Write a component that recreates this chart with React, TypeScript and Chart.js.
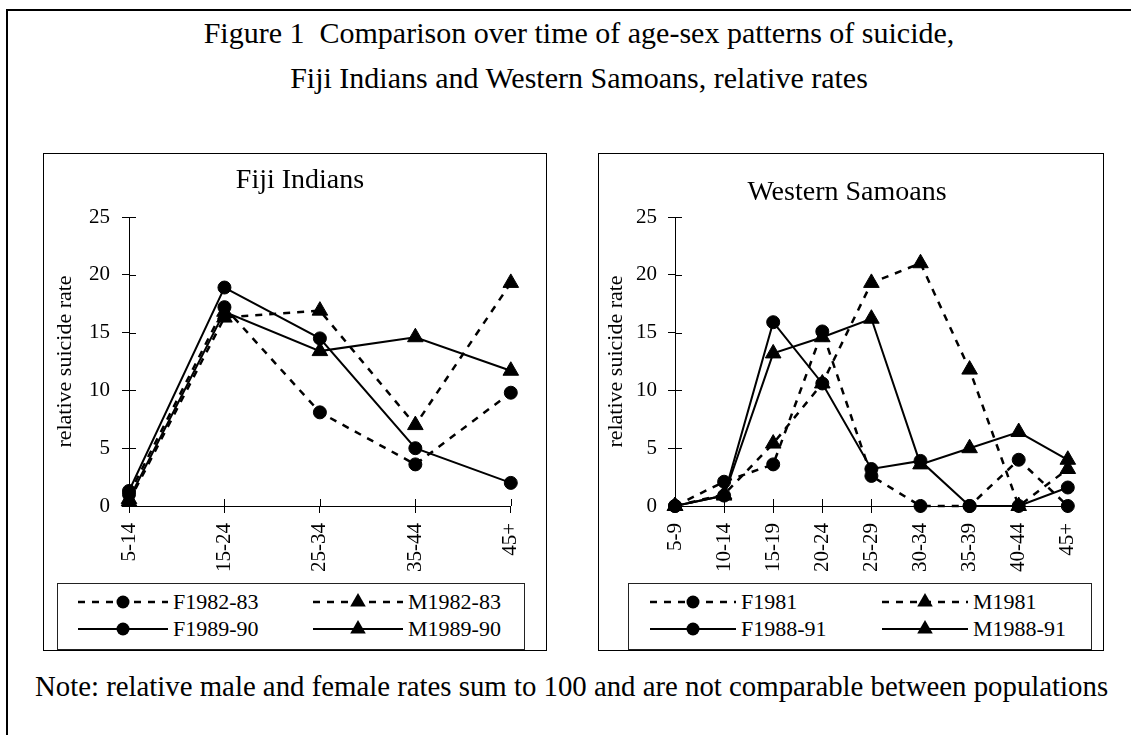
import React, { useEffect, useRef } from "react";
import Chart from "chart.js/auto";

const FONT = '"Liberation Serif", "Times New Roman", serif';

// ---------- data ----------
const fijiCategories = ["5-14", "15-24", "25-34", "35-44", "45+"];
const fijiF1982 = [1.0, 17.2, 8.1, 3.6, 9.8];
const fijiM1982 = [0.4, 16.3, 16.9, 7.0, 19.3];
const fijiF1989 = [1.3, 18.9, 14.5, 5.0, 2.0];
const fijiM1989 = [0.6, 16.8, 13.4, 14.6, 11.7];

const samoaCategories = ["5-9", "10-14", "15-19", "20-24", "25-29", "30-34", "35-39", "40-44", "45+"];
const samoaF1981 = [0, 2.1, 3.6, 15.1, 2.6, 0, 0, 4.0, 0];
const samoaM1981 = [0, 1.0, 5.4, 10.6, 19.3, 21.0, 11.8, 0, 3.2];
const samoaF1988 = [0, 0.9, 15.9, 10.6, 3.2, 3.9, 0, 0, 1.6];
const samoaM1988 = [0, 0.9, 13.2, 14.6, 16.2, 3.6, 5.0, 6.4, 4.0];

const yTickValues = [0, 5, 10, 15, 20, 25];

const fijiSeriesNames = ["F1982-83", "M1982-83", "F1989-90", "M1989-90"];
const samoaSeriesNames = ["F1981", "M1981", "F1988-91", "M1988-91"];

type Marker = "circle" | "triangle";
interface Series {
  name: string;
  values: number[];
  dashed: boolean;
  marker: Marker;
}

const fijiSeries: Series[] = [
  { name: fijiSeriesNames[0], values: fijiF1982, dashed: true, marker: "circle" },
  { name: fijiSeriesNames[1], values: fijiM1982, dashed: true, marker: "triangle" },
  { name: fijiSeriesNames[2], values: fijiF1989, dashed: false, marker: "circle" },
  { name: fijiSeriesNames[3], values: fijiM1989, dashed: false, marker: "triangle" },
];
const samoaSeries: Series[] = [
  { name: samoaSeriesNames[0], values: samoaF1981, dashed: true, marker: "circle" },
  { name: samoaSeriesNames[1], values: samoaM1981, dashed: true, marker: "triangle" },
  { name: samoaSeriesNames[2], values: samoaF1988, dashed: false, marker: "circle" },
  { name: samoaSeriesNames[3], values: samoaM1988, dashed: false, marker: "triangle" },
];

const DASH = [7, 7];
const CIRCLE_R = 6.5;
const TRI_R = 9;

// draws the inner half of the "cross" tick marks
const crossTicks = {
  id: "crossTicks",
  beforeDatasetsDraw(chart: any) {
    const { ctx, chartArea, scales } = chart;
    ctx.save();
    ctx.strokeStyle = "#000";
    ctx.lineWidth = 1;
    ctx.beginPath();
    const ys = scales.y;
    ys.ticks.forEach((_: any, i: number) => {
      const py = Math.round(ys.getPixelForTick(i)) + 0.5;
      ctx.moveTo(chartArea.left, py);
      ctx.lineTo(chartArea.left + 7, py);
    });
    const xs = scales.x;
    xs.ticks.forEach((_: any, i: number) => {
      const px = Math.round(xs.getPixelForTick(i)) + 0.5;
      ctx.moveTo(px, chartArea.bottom);
      ctx.lineTo(px, chartArea.bottom - 7);
    });
    ctx.stroke();
    ctx.restore();
  },
};

interface PanelProps {
  left: number;
  width: number;
  title: string;
  titleTop: number;
  titleCenter: number;
  categories: string[];
  series: Series[];
  yWidth: number;
  padRight: number;
  yTitlePad: number;
  yTickPad: number;
  legendLeft: number;
  legendWidth: number;
  legendCols: number[];
  sampleWidth: number;
}

const PANEL_TOP = 153;
const PANEL_H = 498;

function Sample({ s, w }: { s: Series; w: number }) {
  const cy = 10;
  const cx = w / 2;
  const r = TRI_R;
  return (
    <svg width={w} height={20} style={{ display: "block", flex: "none" }}>
      <line
        x1={0}
        y1={cy}
        x2={w}
        y2={cy}
        stroke="#000"
        strokeWidth={s.dashed ? 2.5 : 2}
        strokeDasharray={s.dashed ? DASH.join(" ") : undefined}
      />
      {s.marker === "circle" ? (
        <circle cx={cx} cy={cy} r={CIRCLE_R} fill="#000" />
      ) : (
        <polygon
          points={`${cx},${cy - r} ${cx + 0.866 * r},${cy + 0.5 * r} ${cx - 0.866 * r},${cy + 0.5 * r}`}
          fill="#000"
        />
      )}
    </svg>
  );
}

function Panel(p: PanelProps) {
  const ref = useRef<HTMLCanvasElement | null>(null);
  const cw = p.width - 2;
  const ch = PANEL_H - 2;

  useEffect(() => {
    if (!ref.current) return;
    const tickFont = { family: FONT, size: 21 };
    const chart = new Chart(ref.current, {
      type: "line",
      data: {
        labels: p.categories,
        datasets: p.series.map((s) => ({
          label: s.name,
          data: s.values,
          borderColor: "#000",
          backgroundColor: "#000",
          borderWidth: s.dashed ? 2.5 : 2,
          borderDash: s.dashed ? DASH : [],
          pointStyle: s.marker,
          pointRadius: s.marker === "circle" ? CIRCLE_R : TRI_R,
          pointBorderWidth: 1,
          pointBackgroundColor: "#000",
          pointBorderColor: "#000",
          tension: 0,
          fill: false,
          clip: false as any,
        })),
      },
      options: {
        animation: false,
        responsive: false,
        devicePixelRatio: 1,
        layout: { padding: { left: 0, top: 63, right: p.padRight, bottom: ch - 352 - 100 } },
        plugins: {
          legend: { display: false },
          title: { display: false },
          tooltip: { enabled: false },
        },
        scales: {
          x: {
            type: "category",
            offset: false,
            grid: { display: true, drawOnChartArea: false, drawTicks: true, tickLength: 7, color: "#000", lineWidth: 1 },
            border: { display: true, color: "#000", width: 1 },
            ticks: {
              font: tickFont,
              color: "#000",
              minRotation: 90,
              maxRotation: 90,
              padding: 10,
              autoSkip: false,
            },
            afterFit: (s: any) => {
              s.height = 100;
            },
          },
          y: {
            min: 0,
            max: 25,
            afterBuildTicks: (s: any) => {
              s.ticks = yTickValues.map((v) => ({ value: v }));
            },
            grid: { display: true, drawOnChartArea: false, drawTicks: true, tickLength: 7, color: "#000", lineWidth: 1 },
            border: { display: true, color: "#000", width: 1 },
            ticks: { font: tickFont, color: "#000", padding: p.yTickPad },
            title: {
              display: true,
              text: "relative suicide rate",
              font: { family: FONT, size: 22 },
              color: "#000",
              padding: { top: p.yTitlePad, bottom: 0 },
            },
            afterFit: (s: any) => {
              s.width = p.yWidth;
            },
          },
        },
      },
      plugins: [crossTicks],
    } as any);
    return () => chart.destroy();
  }, []);

  const rows = [18, 45];
  return (
    <div
      style={{
        position: "absolute",
        left: p.left,
        top: PANEL_TOP,
        width: p.width,
        height: PANEL_H,
        boxSizing: "border-box",
        border: "1px solid #000",
        background: "#fff",
      }}
    >
      <canvas ref={ref} width={cw} height={ch} style={{ position: "absolute", left: 0, top: 0, width: cw, height: ch }} />
      <div
        style={{
          position: "absolute",
          left: p.titleCenter - 250,
          width: 500,
          top: p.titleTop,
          textAlign: "center",
          fontFamily: FONT,
          fontSize: 28,
          lineHeight: "28px",
          whiteSpace: "nowrap",
          color: "#000",
        }}
      >
        {p.title}
      </div>
      <div
        style={{
          position: "absolute",
          left: p.legendLeft,
          top: 429,
          width: p.legendWidth,
          height: 67,
          boxSizing: "border-box",
          border: "1px solid #222",
          background: "#fff",
        }}
      >
        {p.series.map((s, i) => (
          <div
            key={s.name}
            style={{
              position: "absolute",
              left: p.legendCols[i % 2] - 1,
              top: rows[Math.floor(i / 2)] - 13,
              height: 26,
              display: "flex",
              alignItems: "center",
              fontFamily: FONT,
              fontSize: 22,
              whiteSpace: "nowrap",
              color: "#000",
            }}
          >
            <Sample s={s} w={p.sampleWidth} />
            <span style={{ marginLeft: 5 }}>{s.name}</span>
          </div>
        ))}
      </div>
    </div>
  );
}

export default function App() {
  return (
    <div
      style={{
        position: "fixed",
        left: 0,
        top: 0,
        width: 1131,
        height: 735,
        overflow: "hidden",
        background: "#fff",
      }}
    >
      <div
        style={{
          position: "absolute",
          left: 6,
          top: 9,
          width: 1200,
          height: 800,
          border: "2px solid #000",
          boxSizing: "border-box",
        }}
      />
      <div
        style={{
          position: "absolute",
          left: 0,
          top: 10,
          width: 1158,
          textAlign: "center",
          fontFamily: FONT,
          fontSize: 30,
          lineHeight: "45px",
          color: "#000",
          whiteSpace: "nowrap",
        }}
      >
        <div>Figure 1{"\u00a0\u00a0"}Comparison over time of age-sex patterns of suicide,</div>
        <div>Fiji Indians and Western Samoans, relative rates</div>
      </div>
      <Panel
        left={43}
        width={504}
        title="Fiji Indians"
        titleTop={10.5}
        titleCenter={256}
        categories={fijiCategories}
        series={fijiSeries}
        yWidth={85}
        padRight={26}
        yTitlePad={8}
        yTickPad={12}
        legendLeft={13}
        legendWidth={468}
        legendCols={[21, 256]}
        sampleWidth={90}
      />
      <Panel
        left={598}
        width={506}
        title="Western Samoans"
        titleTop={22.5}
        titleCenter={248}
        categories={samoaCategories}
        series={samoaSeries}
        yWidth={76}
        padRight={28}
        yTitlePad={4}
        yTickPad={11}
        legendLeft={29}
        legendWidth={464}
        legendCols={[22, 254]}
        sampleWidth={86}
      />
      <div
        style={{
          position: "absolute",
          left: 35,
          top: 671,
          fontFamily: FONT,
          fontSize: 28.8,
          lineHeight: "30px",
          whiteSpace: "nowrap",
          color: "#000",
        }}
      >
        Note: relative male and female rates sum to 100 and are not comparable between populations
      </div>
    </div>
  );
}
